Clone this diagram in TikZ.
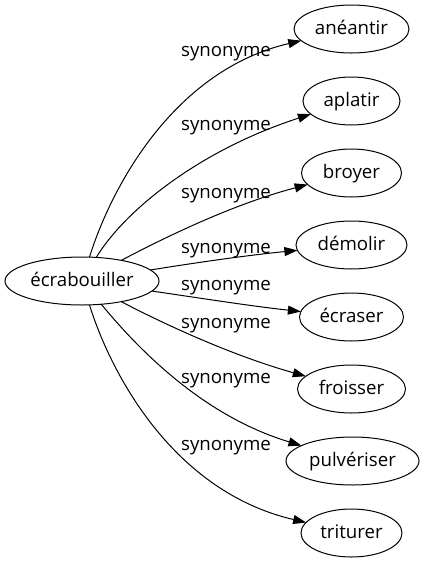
\documentclass[tikz,border=0pt]{standalone}
\usepackage{fontspec}
\setmainfont{Open Sans}
\usetikzlibrary{shapes.geometric,arrows.meta}
\tikzset{
  word/.style={ellipse,draw=black,line width=1pt,inner sep=0pt,outer sep=0pt,
    minimum height=48pt,text height=14pt,text depth=3.5pt,
    font=\fontsize{18.67}{22}\selectfont},
  lbl/.style={inner sep=0pt,text height=14pt,text depth=3.5pt,
    font=\fontsize{18.67}{22}\selectfont},
  rel/.style={draw=black,line width=1pt,-{Triangle[length=13pt,width=9pt]}}
}
\begin{document}
\begin{tikzpicture}[x=1pt,y=-1pt]
\useasboundingbox (0,0) rectangle (424,563);
\node[word,minimum width=154pt] (main) at (82,281) {écrabouiller};
\node[word,minimum width=115pt] (n1) at (351.5,29) {anéantir};
\node[word,minimum width=97pt]  (n2) at (351.5,101) {aplatir};
\node[word,minimum width=100pt] (n3) at (351.5,173) {broyer};
\node[word,minimum width=111pt] (n4) at (351.5,245) {démolir};
\node[word,minimum width=104pt] (n5) at (351.5,317) {écraser};
\node[word,minimum width=108pt] (n6) at (351.5,389) {froisser};
\node[word,minimum width=133pt] (n7) at (352.5,461) {pulvériser};
\node[word,minimum width=101pt] (n8) at (351.5,533) {triturer};

\node[lbl] (l1) at (226,51) {synonyme};
\node[lbl] (l2) at (226,125) {synonyme};
\node[lbl] (l3) at (226,193) {synonyme};
\node[lbl] (l4) at (226,248) {synonyme};
\node[lbl] (l5) at (226,285) {synonyme};
\node[lbl] (l6) at (226,323) {synonyme};
\node[lbl] (l7) at (226,378) {synonyme};
\node[lbl] (l8) at (226,445) {synonyme};

\draw[rel] (main) .. controls (112,185) and (175,70) .. (n1);
\draw[rel] (main) .. controls (125,210) and (200,150) .. (n2);
\draw[rel] (main) .. controls (160,240) and (230,205) .. (n3);
\draw[rel] (main) .. controls (200,262) and (250,255) .. (n4);
\draw[rel] (main) .. controls (200,298) and (250,306) .. (n5);
\draw[rel] (main) .. controls (160,322) and (230,355) .. (n6);
\draw[rel] (main) .. controls (135,345) and (200,415) .. (n7);
\draw[rel] (main) .. controls (112,377) and (175,492) .. (n8);
\end{tikzpicture}
\end{document}
